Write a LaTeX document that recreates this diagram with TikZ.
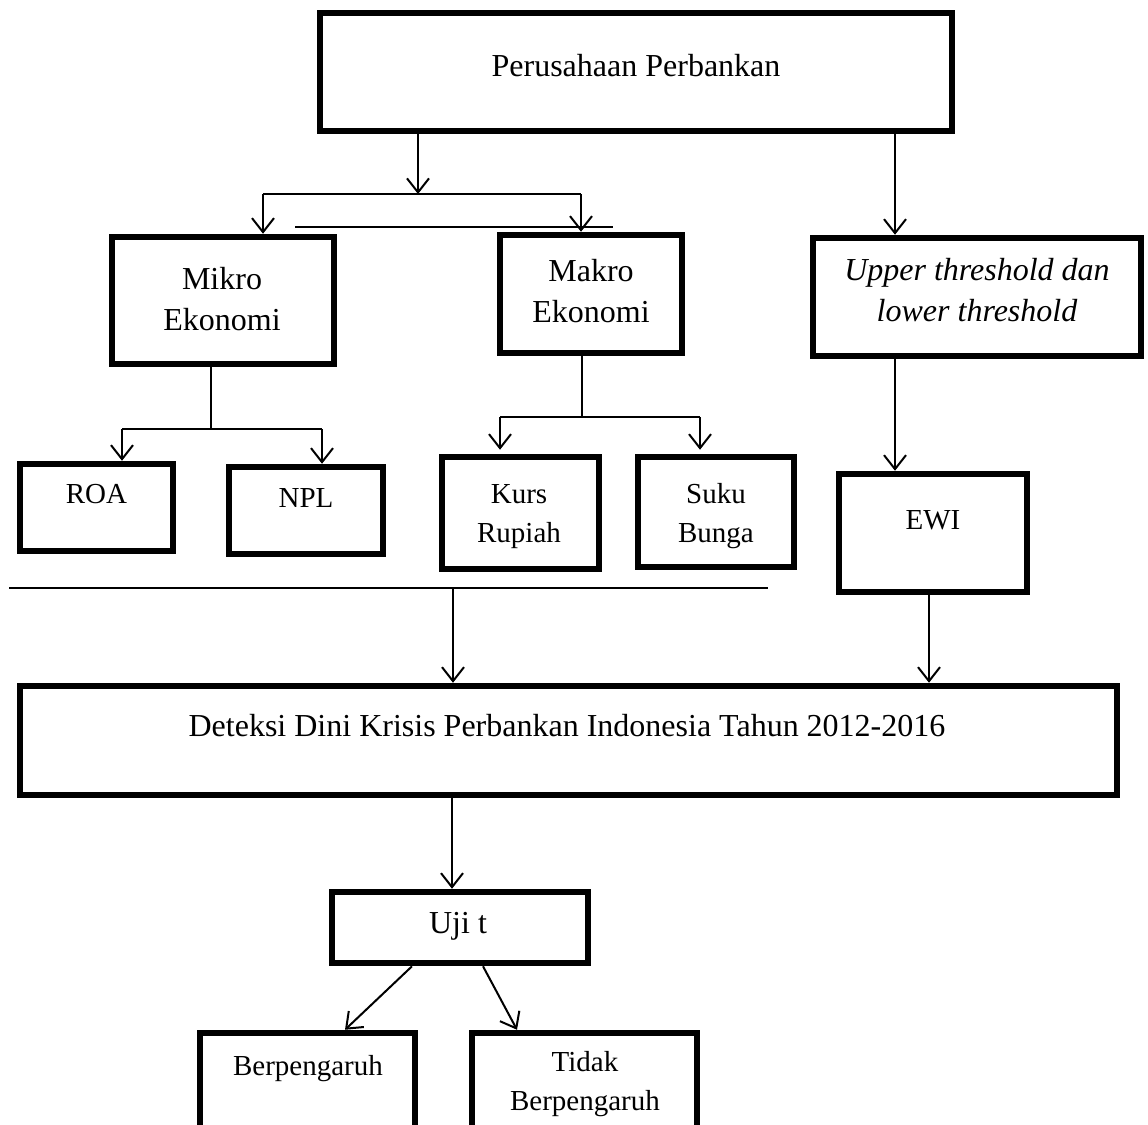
\documentclass[tikz,border=0pt]{standalone}
\usepackage{fontspec}
\setmainfont{Liberation Serif}
\usetikzlibrary{arrows.meta}
\begin{document}
\begin{tikzpicture}[x=1pt,y=-1pt,
  box/.style={draw, line width=6.5pt, rectangle, inner sep=0pt},
  conn/.style={line width=2pt},
  arr/.style={line width=2pt, -{Straight Barb[length=14pt,width=22pt]}},
  lbl/.style={anchor=base, inner sep=0pt, font=\fontsize{32}{41}\selectfont, align=center},
  slbl/.style={anchor=base, inner sep=0pt, font=\fontsize{29}{39}\selectfont, align=center}]
\useasboundingbox (0,0) rectangle (1148,1124);
% boxes
\node[box, minimum width=632pt, minimum height=118pt] (top)   at (636,72) {};
\node[box, minimum width=222pt, minimum height=127pt] (mikro) at (223,300.5) {};
\node[box, minimum width=182pt, minimum height=118pt] (makro) at (591,294) {};
\node[box, minimum width=328pt, minimum height=118pt] (upper) at (977,297) {};
\node[box, minimum width=153pt, minimum height=87pt]  (roa)   at (96.5,507.5) {};
\node[box, minimum width=154pt, minimum height=87pt]  (npl)   at (306,510.5) {};
\node[box, minimum width=157pt, minimum height=112pt] (kurs)  at (520.5,513) {};
\node[box, minimum width=156pt, minimum height=110pt] (suku)  at (716,512) {};
\node[box, minimum width=188pt, minimum height=118pt] (ewi)   at (933,533) {};
\node[box, minimum width=1097pt, minimum height=109pt] (det)  at (568.5,740.5) {};
\node[box, minimum width=256pt, minimum height=71pt]  (uji)   at (460,927.5) {};
\node[box, minimum width=215pt, minimum height=127pt] (berp)  at (307.5,1096.5) {};
\node[box, minimum width=225pt, minimum height=127pt] (tidak) at (584.5,1096.5) {};
% texts (multi-line nodes are anchored at the baseline of their last line)
\node[lbl]  (topT)   at (636,77)  {Perusahaan Perbankan};
\node[lbl]  (mikroT) at (222,330) {Mikro\\Ekonomi};
\node[lbl]  (makroT) at (591,322) {Makro\\Ekonomi};
\node[lbl, font=\fontsize{32}{41}\selectfont\itshape] (upperT) at (977,321) {Upper threshold dan\\lower threshold};
\node[slbl] (roaT)   at (96.5,503) {ROA};
\node[slbl] (nplT)   at (306,507) {NPL};
\node[slbl] (kursT)  at (519,542) {Kurs\\Rupiah};
\node[slbl] (sukuT)  at (716,542) {Suku\\Bunga};
\node[slbl] (ewiT)   at (933,529) {EWI};
\node[lbl]  (detT)   at (567,736) {Deteksi Dini Krisis Perbankan Indonesia Tahun 2012-2016};
\node[lbl]  (ujiT)   at (458,933) {Uji t};
\node[slbl] (berpT)  at (308,1075) {Berpengaruh};
\node[slbl] (tidakT) at (585,1110) {Tidak\\Berpengaruh};
% helper coordinates
\coordinate (xA) at (418,194);
\coordinate (xB) at (263,194);
\coordinate (xC) at (581,194);
\coordinate (st1) at (295,227);
\coordinate (st2) at (613,227);
\coordinate (xU) at (895,0);
\coordinate (xE) at (929,0);
\coordinate (mJ) at (211,429);
\coordinate (mL) at (122,429);
\coordinate (mR) at (322,429);
\coordinate (kJ) at (582,417);
\coordinate (kL) at (500,417);
\coordinate (kR) at (700,417);
\coordinate (hL) at (9,588);
\coordinate (hR) at (768,588);
\coordinate (hA) at (453,588);
\coordinate (dU) at (452,0);
\coordinate (uL) at (412,0);
\coordinate (uR) at (483,0);
\coordinate (bT) at (345,0);
\coordinate (tT) at (517,0);
% connectors
\draw[arr] (top.south -| xA) -- (xA);
\draw[conn] (xB) -- (xC);
\draw[arr] (xB) -- (xB |- mikro.north);
\draw[arr] (xC) -- (xC |- makro.north);
\draw[conn] (st1) -- (st2);
\draw[arr] (top.south -| xU) -- (upper.north -| xU);
\draw[arr] (upper.south -| xU) -- (ewi.north -| xU);
\draw[arr] (ewi.south -| xE) -- (det.north -| xE);
\draw[conn] (mikro.south -| mJ) -- (mJ);
\draw[conn] (mL) -- (mR);
\draw[arr] (mL) -- (mL |- roa.north);
\draw[arr] (mR) -- (mR |- npl.north);
\draw[conn] (makro.south -| kJ) -- (kJ);
\draw[conn] (kL) -- (kR);
\draw[arr, shorten >=4pt] (kL) -- (kL |- kurs.north);
\draw[arr, shorten >=4pt] (kR) -- (kR |- suku.north);
\draw[conn] (hL) -- (hR);
\draw[arr] (hA) -- (det.north -| hA);
\draw[arr] (det.south -| dU) -- (uji.north -| dU);
\draw[arr] (uji.south -| uL) -- (berp.north -| bT);
\draw[arr] (uji.south -| uR) -- (tidak.north -| tT);
\end{tikzpicture}
\end{document}
